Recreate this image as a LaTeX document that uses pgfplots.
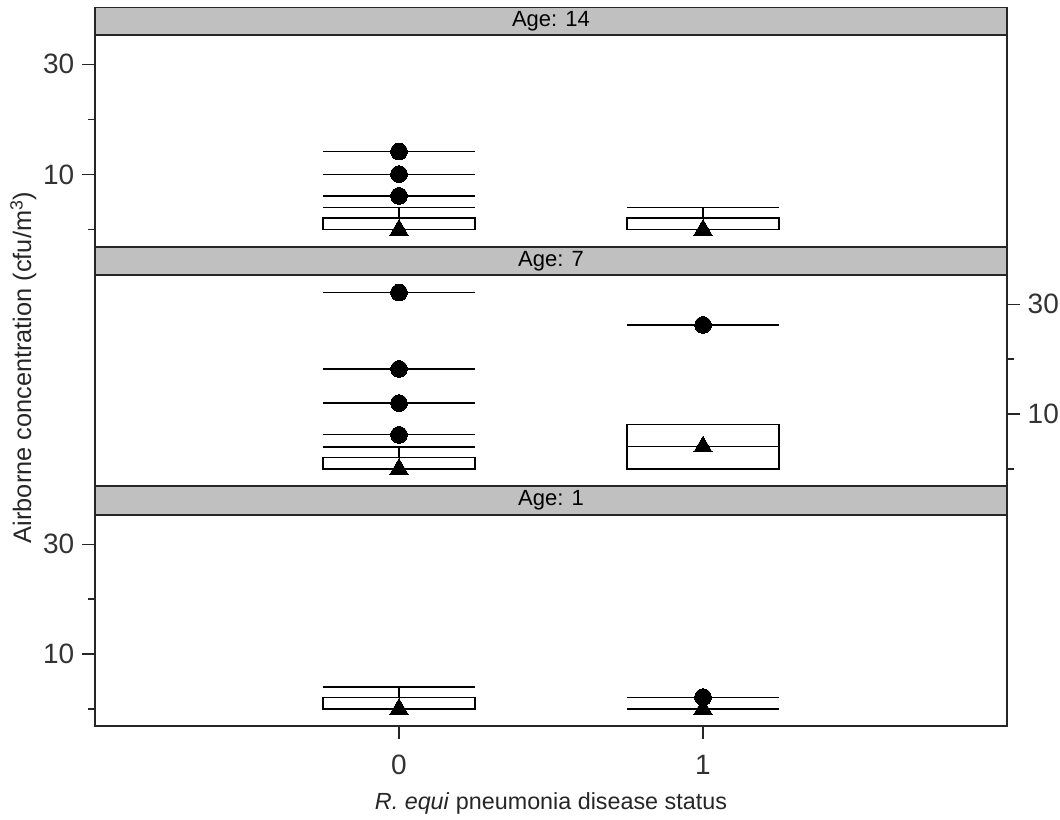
\documentclass[border=0pt]{standalone}
\usepackage{pgfplots}
\pgfplotsset{compat=1.18}
\usepackage{fontspec}
\setmainfont{Liberation Sans}
\definecolor{stripgray}{RGB}{192,192,192}
\begin{document}
\begin{tikzpicture}
\useasboundingbox (0,0) rectangle (795pt,615pt);
\pgfplotsset{
  panel/.style={
    at={(71.25pt,#1)}, anchor=south west,
    scale only axis, width=684pt,
    xmin=-1, xmax=2, ymin=-3.1, ymax=35.3,
    axis line style={line width=1.1pt, black!85},
    xtick=\empty,
    ytick={10,30}, minor ytick={0,20},
    tick align=outside,
    major tick length=9.5pt, minor tick length=5pt,
    tick style={line width=0.9pt, black!85},
    tick label style={font=\fontsize{21}{25}\selectfont, text=black!80},
    /pgf/number format/assume math mode=true,
    clip=false,
  },
  dl/.style={black, line width=0.9pt, mark=none},
  dot/.style={only marks, mark=*, mark size=6.3pt, mark options={black, fill=black, line width=0pt}},
  tri/.style={only marks, mark=triangle*, mark size=7.9pt, mark options={black, fill=black, line width=0pt}},
}
% ---------------- Age 14 ----------------
\begin{axis}[panel=429.75pt, height=159pt, ytick pos=left, yticklabel style={xshift=-2.5pt}]
 \addplot[dl] coordinates {(-0.25,14.2) (0.25,14.2)};
 \addplot[dl] coordinates {(-0.25,10.1) (0.25,10.1)};
 \addplot[dl] coordinates {(-0.25,6.15) (0.25,6.15)};
 \addplot[dl] coordinates {(0,2.15) (0,4.0)};
 \addplot[dl] coordinates {(-0.25,4.0) (0.25,4.0)};
 \addplot[dl, fill=white] coordinates {(-0.25,0) (0.25,0) (0.25,2.15) (-0.25,2.15)} -- cycle;
 \addplot[dot] coordinates {(0,14.2) (0,10.1) (0,6.15)};
 \addplot[tri] coordinates {(0,0)};
 % group 1
 \addplot[dl] coordinates {(1,2.15) (1,4.0)};
 \addplot[dl] coordinates {(0.75,4.0) (1.25,4.0)};
 \addplot[dl, fill=white] coordinates {(0.75,0) (1.25,0) (1.25,2.15) (0.75,2.15)} -- cycle;
 \addplot[tri] coordinates {(1,0)};
\end{axis}
% ---------------- Age 7 ----------------
\begin{axis}[panel=250.5pt, height=158.25pt, ytick pos=right, yticklabel pos=right, yticklabel style={xshift=2.5pt}]
 \addplot[dl] coordinates {(-0.25,32.1) (0.25,32.1)};
 \addplot[dl] coordinates {(-0.25,18.2) (0.25,18.2)};
 \addplot[dl] coordinates {(-0.25,12.0) (0.25,12.0)};
 \addplot[dl] coordinates {(-0.25,6.2) (0.25,6.2)};
 \addplot[dl] coordinates {(0,2.15) (0,4.0)};
 \addplot[dl] coordinates {(-0.25,4.0) (0.25,4.0)};
 \addplot[dl, fill=white] coordinates {(-0.25,0) (0.25,0) (0.25,2.15) (-0.25,2.15)} -- cycle;
 \addplot[dot] coordinates {(0,32.1) (0,18.2) (0,12.0) (0,6.2)};
 \addplot[tri] coordinates {(0,0)};
 % group 1
 \addplot[dl] coordinates {(0.75,26.2) (1.25,26.2)};
 \addplot[dl, fill=white] coordinates {(0.75,0) (1.25,0) (1.25,8.05) (0.75,8.05)} -- cycle;
 \addplot[dl] coordinates {(0.75,4.05) (1.25,4.05)};
 \addplot[dot] coordinates {(1,26.2)};
 \addplot[tri] coordinates {(1,4.05)};
\end{axis}
% ---------------- Age 1 ----------------
\begin{axis}[panel=70.5pt, height=158.25pt, ytick pos=left, yticklabel style={xshift=-2.5pt},
   xtick={0,1}, xticklabels={0,1}, xtick pos=bottom,
   xticklabel style={yshift=-9pt}]
 \addplot[dl] coordinates {(0,2.15) (0,4.0)};
 \addplot[dl] coordinates {(-0.25,4.0) (0.25,4.0)};
 \addplot[dl, fill=white] coordinates {(-0.25,0) (0.25,0) (0.25,2.15) (-0.25,2.15)} -- cycle;
 \addplot[tri] coordinates {(0,0)};
 % group 1
 \addplot[dl] coordinates {(0.75,2.15) (1.25,2.15)};
 \addplot[dl] coordinates {(0.75,0) (1.25,0)};
 \addplot[dot] coordinates {(1,2.15)};
 \addplot[tri] coordinates {(1,0)};
\end{axis}
% strips
\draw[fill=stripgray, draw=black!85, line width=0.9pt] (71.25pt,588.75pt) rectangle (755.25pt,609.5pt);
\draw[fill=stripgray, draw=black!85, line width=0.9pt] (71.25pt,408.75pt) rectangle (755.25pt,429.75pt);
\draw[fill=stripgray, draw=black!85, line width=0.9pt] (71.25pt,228.75pt) rectangle (755.25pt,250.5pt);
\node[font=\fontsize{16.5}{19}\selectfont] at (413.25pt,599.1pt) {Age: 14};
\node[font=\fontsize{16.5}{19}\selectfont] at (413.25pt,419.25pt) {Age: 7};
\node[font=\fontsize{16.5}{19}\selectfont] at (413.25pt,239.6pt) {Age: 1};
% axis labels
\node[font=\fontsize{17.5}{21}\selectfont, text=black!85] at (413.25pt,12.75pt) {\textit{R. equi} pneumonia disease status};
\node[font=\fontsize{19}{22}\selectfont, text=black!85, rotate=90] at (17.5pt,339.4pt) {Airborne concentration (cfu/m\textsuperscript{3})};
\end{tikzpicture}
\end{document}
